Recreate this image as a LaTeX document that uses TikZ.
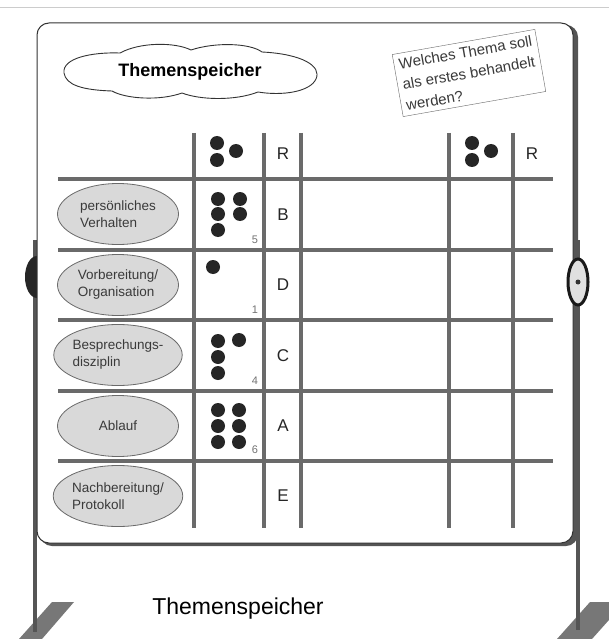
\documentclass[tikz,border=0pt]{standalone}
\usepackage{fontspec}
\setmainfont{Liberation Sans}
\usetikzlibrary{shapes.geometric}

\definecolor{gridgray}{HTML}{6A6A6A}
\definecolor{fillgray}{HTML}{D9D9D9}
\definecolor{textgray}{HTML}{3A3A3A}
\definecolor{polegray}{HTML}{555555}
\definecolor{footgray}{HTML}{777777}

\begin{document}
\begin{tikzpicture}[x=1pt,y=-1pt,
    gridline/.style={draw=gridgray,line width=4pt},
    topic/.style={ellipse,draw=gridgray,fill=fillgray,line width=0.8pt,
      minimum width=121pt,minimum height=61pt,inner sep=0pt,align=left,
      font=\fontsize{13.5}{17}\selectfont,text=textgray},
    vote/.style={circle,fill=black!85,minimum size=14pt,inner sep=0pt},
    count/.style={font=\fontsize{11}{11}\selectfont,text=black!55},
    rank/.style={font=\fontsize{17}{17}\selectfont,text=black!85}]
  \useasboundingbox (0,0) rectangle (609,639);
  \draw[black!20,line width=0.8pt] (0,7) to (609,7);

  % stand
  \fill[footgray] (19,639) -- (52,602) -- (74,602) -- (42,639) -- cycle;
  \fill[footgray] (557,639) -- (590,602) -- (625,602) -- (592,639) -- cycle;
  \draw[polegray,line width=4pt] (35,240) to (35,632);
  \draw[polegray,line width=4pt] (578,240) to (578,630);
  \fill[black!85] (37,277) ellipse [x radius=12, y radius=21];

  % board
  \fill[polegray,rounded corners=12pt] (40,25) rectangle (578,546);
  \draw[fill=white,draw=black!80,line width=1pt,rounded corners=12pt] (37,23) rectangle (573,543);
  \draw[black!90,line width=3pt,fill=black!12] (578,282) ellipse [x radius=10, y radius=23];
  \fill[black!80] (578,282) circle (2.5);

  % cloud
  \draw[black!80,line width=0.9pt] (64,73)
    .. controls (62,58) and (92,52) .. (120,53)
    .. controls (140,42) and (175,42) .. (191,50)
    .. controls (215,42) and (250,43) .. (262,52)
    .. controls (302,54) and (322,66) .. (316,79)
    .. controls (310,92) and (282,96) .. (258,92)
    .. controls (235,101) and (200,100) .. (182,93)
    .. controls (160,101) and (126,99) .. (112,91)
    .. controls (82,90) and (66,85) .. (64,73);
  \node[font=\bfseries\fontsize{18}{18}\selectfont] (title) at (190,72) {Themenspeicher};
  \node[draw=black!60,rotate=10,align=left,inner sep=5pt,
    font=\fontsize{15}{21}\selectfont,text=textgray] (question) at (469,73)
    {Welches Thema soll\\als erstes behandelt\\werden?};

  % grid
  \foreach \y in {179,250,320,391,461}
    \draw[gridline] (58,\y) to (553,\y);
  \foreach \x in {194,264,301,449,513}
    \draw[gridline] (\x,133) to (\x,528);

  % header
  \foreach \x in {0,255} {
    \node[vote] at (217+\x,143) {};
    \node[vote] at (217+\x,160) {};
    \node[vote] at (236+\x,151) {};
  }
  \node[rank] (r1) at (283,154) {R};
  \node[rank] (r2) at (532,154) {R};

  % topics
  \node[topic] (verhalten) at (118,214) {persönliches\\Verhalten};
  \node[topic] (vorbereitung) at (118,285) {Vorbereitung/\\Organisation};
  \node[topic] (disziplin) at (118,355) {Besprechungs-\\disziplin};
  \node[topic] (ablauf) at (118,426) {Ablauf};
  \node[topic] (protokoll) at (118,496) {Nachbereitung/\\Protokoll};

  % votes
  \foreach \p in {(218,199),(240,199),(218,214),(240,214),(218,230)}
    \node[vote] at \p {};
  \node[count] (n5) at (255,240) {5};
  \node[vote] at (213,267) {};
  \node[count] (n1) at (255,310) {1};
  \foreach \p in {(218,341),(239,340),(218,357),(218,373)}
    \node[vote] at \p {};
  \node[count] (n4) at (255,381) {4};
  \foreach \p in {(218,410),(239,410),(218,426),(239,426),(218,442),(239,442)}
    \node[vote] at \p {};
  \node[count] (n6) at (255,450) {6};

  \node[rank] (b) at (283,215) {B};
  \node[rank] (d) at (283,285) {D};
  \node[rank] (c) at (283,356) {C};
  \node[rank] (a) at (283,426) {A};
  \node[rank] (e) at (283,496) {E};

  \node[font=\fontsize{23}{23}\selectfont] (caption) at (238,609) {Themenspeicher};
\end{tikzpicture}
\end{document}
